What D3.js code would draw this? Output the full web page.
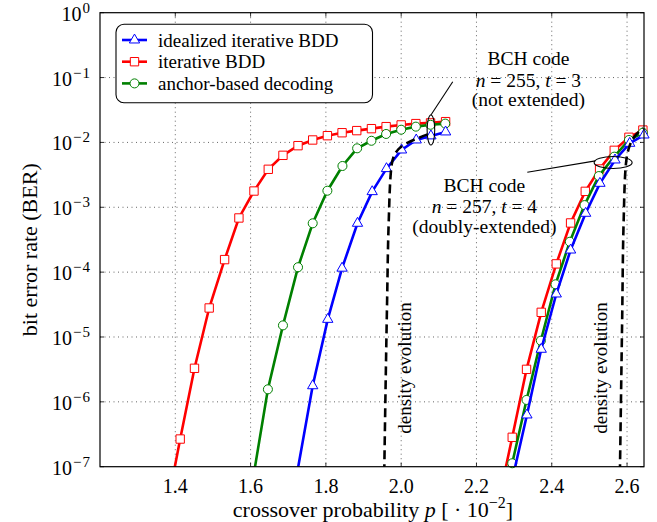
<!DOCTYPE html>
<html>
<body style="margin:0">

<script src="https://d3js.org/d3.v7.min.js"></script>
<style>

body {
    font-family: "Liberation Serif", "Times New Roman", serif;
    background: #fff;
}

.grid line {
    stroke: #555;
    stroke-width: 0.9;
    stroke-dasharray: 1 3.5;
}

.tick-label {
    font-size: 20px;
}

</style>

<script>

// crossover probability p [*1e-2] and bit error rate
// BCH n=255, t=3 (not extended)
var pIdeal255 = [1.725, 1.765, 1.805, 1.843, 1.884, 1.923, 1.961, 2.001, 2.040, 2.079, 2.118];
var berIdeal255 = [8.9e-8, 1.77e-6, 1.87e-5, 1.15e-4, 5.66e-4, 1.74e-3, 3.94e-3, 7.64e-3, 1.09e-2, 1.26e-2, 1.45e-2];

var pIter255 = [1.374, 1.413, 1.451, 1.490, 1.531, 1.569, 1.609, 1.647, 1.686, 1.726, 1.765, 1.804, 1.843, 1.882, 1.921, 1.960, 2.000, 2.039, 2.078, 2.118];
var berIter255 = [1.8e-8, 2.67e-7, 3.29e-6, 2.8e-5, 1.56e-4, 6.84e-4, 1.78e-3, 3.85e-3, 6.32e-3, 8.91e-3, 1.09e-2, 1.27e-2, 1.41e-2, 1.52e-2, 1.63e-2, 1.75e-2, 1.86e-2, 1.95e-2, 2.0e-2, 2.09e-2];

var pAnchor255 = [1.607, 1.646, 1.686, 1.726, 1.765, 1.804, 1.844, 1.883, 1.921, 1.960, 2.000, 2.039, 2.078, 2.117];
var berAnchor255 = [6.8e-8, 1.56e-6, 1.51e-5, 1.19e-4, 5.66e-4, 1.80e-3, 4.33e-3, 8.11e-3, 1.06e-2, 1.35e-2, 1.57e-2, 1.75e-2, 1.87e-2, 1.95e-2];

// BCH n=257, t=4 (doubly-extended)
var pIdeal257 = [2.295, 2.334, 2.372, 2.412, 2.450, 2.490, 2.528, 2.568, 2.607, 2.645];
var berIdeal257 = [6.3e-8, 6.27e-7, 6.46e-6, 4.60e-5, 2.19e-4, 8.07e-4, 2.34e-3, 5.36e-3, 9.68e-3, 1.30e-2];

var pIter257 = [2.256, 2.295, 2.333, 2.372, 2.412, 2.450, 2.489, 2.527, 2.566, 2.605, 2.642];
var berIter257 = [2.5e-8, 2.84e-7, 3.17e-6, 2.40e-5, 1.34e-4, 5.73e-4, 1.76e-3, 3.89e-3, 7.55e-3, 1.20e-2, 1.55e-2];

var pAnchor257 = [2.256, 2.295, 2.333, 2.371, 2.410, 2.448, 2.487, 2.525, 2.566, 2.605, 2.642];
var berAnchor257 = [1.26e-8, 1.13e-7, 1.07e-6, 8.77e-6, 6.49e-5, 2.94e-4, 1.08e-3, 3.03e-3, 6.03e-3, 1.09e-2, 1.41e-2];

// density evolution predictions
var pDE255 = [1.955, 1.9625, 1.9668, 1.9731, 1.980, 2.0067, 2.0777];
var berDE255 = [7.9e-8, 3.31e-5, 5.66e-4, 3.76e-3, 6.03e-3, 9.12e-3, 1.38e-2];
var pDE257 = [2.581, 2.587, 2.591, 2.596, 2.607, 2.624, 2.642];
var berDE257 = [7.9e-8, 1.86e-5, 6.31e-4, 3.98e-3, 8.91e-3, 1.32e-2, 1.66e-2];

var xTicks = [1.4, 1.6, 1.8, 2.0, 2.2, 2.4, 2.6];
var yExponents = [0, -1, -2, -3, -4, -5, -6, -7];

var legendNames = ["idealized iterative BDD", "iterative BDD", "anchor-based decoding"];

var W = 657, H = 522;
var plot = {left: 100, right: 644, top: 12.7, bottom: 466.7};

var svg = d3.select("body").append("svg")
    .attr("width", W)
    .attr("height", H);

var x = d3.scaleLinear().domain([1.2, 2.645]).range([plot.left, plot.right]);
var y = d3.scaleLog().domain([1e-7, 1]).range([plot.bottom, plot.top]);

svg.append("clipPath").attr("id", "clip")
  .append("rect")
    .attr("x", plot.left).attr("y", plot.top)
    .attr("width", plot.right - plot.left)
    .attr("height", plot.bottom - plot.top);

// grid
var grid = svg.append("g").attr("class", "grid");
grid.selectAll(".gx").data(xTicks).enter().append("line")
    .attr("x1", function(d) { return x(d) }).attr("x2", function(d) { return x(d) })
    .attr("y1", plot.top).attr("y2", plot.bottom);
grid.selectAll(".gy").data(yExponents.slice(1, -1)).enter().append("line")
    .attr("y1", function(d) { return y(Math.pow(10, d)) }).attr("y2", function(d) { return y(Math.pow(10, d)) })
    .attr("x1", plot.left).attr("x2", plot.right);

// inward ticks
var ticks = svg.append("g").attr("stroke", "#000").attr("stroke-width", 0.8);
xTicks.forEach(function(t) {
    ticks.append("line").attr("x1", x(t)).attr("x2", x(t)).attr("y1", plot.bottom).attr("y2", plot.bottom - 4);
    ticks.append("line").attr("x1", x(t)).attr("x2", x(t)).attr("y1", plot.top).attr("y2", plot.top + 4);
});
yExponents.forEach(function(e) {
    var yy = y(Math.pow(10, e));
    ticks.append("line").attr("x1", plot.left).attr("x2", plot.left + 4).attr("y1", yy).attr("y2", yy);
    ticks.append("line").attr("x1", plot.right).attr("x2", plot.right - 4).attr("y1", yy).attr("y2", yy);
});

// tick labels
svg.selectAll(".xl").data(xTicks).enter().append("text")
    .attr("class", "tick-label")
    .attr("x", function(d) { return x(d) })
    .attr("y", 493)
    .attr("text-anchor", "middle")
    .text(function(d) { return d.toFixed(1) });

var yl = svg.selectAll(".yl").data(yExponents).enter().append("text")
    .attr("class", "tick-label")
    .attr("x", 91)
    .attr("y", function(d) { return y(Math.pow(10, d)) + 8 })
    .attr("text-anchor", "end");
yl.append("tspan").text("10");
yl.append("tspan").attr("dy", -8).attr("dx", 1).style("font-size", "15px").style("letter-spacing", "1px")
    .text(function(d) { return d === 0 ? "0" : "\u2212" + (-d) });

// axis labels
var xlab = svg.append("text")
    .attr("x", (plot.left + plot.right) / 2 + 1)
    .attr("y", 517)
    .attr("text-anchor", "middle")
    .style("font-size", "22px");
xlab.append("tspan").text("crossover probability ");
xlab.append("tspan").style("font-style", "italic").text("p");
xlab.append("tspan").text(" [ \u00b7 10");
xlab.append("tspan").attr("dy", -9).style("font-size", "16px").text("\u22122");
xlab.append("tspan").attr("dy", 9).text("]");

svg.append("text")
    .attr("transform", "translate(37," + ((plot.top + plot.bottom) / 2 + 10) + ") rotate(-90)")
    .attr("text-anchor", "middle")
    .style("font-size", "22px")
    .text("bit error rate (BER)");

// curves
var line = d3.line()
    .x(function(d) { return x(d[0]) })
    .y(function(d) { return y(d[1]) });

function zip(a, b) { return a.map(function(v, i) { return [v, b[i]] }) }

var series = [
    {p: pIter255, ber: berIter255, color: "#ff0000", sym: d3.symbolSquare, size: 70},
    {p: pAnchor255, ber: berAnchor255, color: "#008000", sym: d3.symbolCircle, size: 64},
    {p: pIdeal255, ber: berIdeal255, color: "#0000ff", sym: d3.symbolTriangle, size: 46},
    {p: pIter257, ber: berIter257, color: "#ff0000", sym: d3.symbolSquare, size: 70},
    {p: pAnchor257, ber: berAnchor257, color: "#008000", sym: d3.symbolCircle, size: 64},
    {p: pIdeal257, ber: berIdeal257, color: "#0000ff", sym: d3.symbolTriangle, size: 46}
];

var curves = svg.append("g");
series.forEach(function(s) {
    var pts = zip(s.p, s.ber);
    curves.append("path")
        .attr("clip-path", "url(#clip)")
        .attr("d", line(pts))
        .attr("fill", "none")
        .attr("stroke", s.color)
        .attr("stroke-width", 2.6);
    curves.selectAll(null)
        .data(pts.filter(function(d) { return d[1] >= 1e-7 }))
      .enter().append("path")
        .attr("transform", function(d) { return "translate(" + x(d[0]) + "," + y(d[1]) + ")" })
        .attr("d", d3.symbol().type(s.sym).size(s.size))
        .attr("fill", "#fff")
        .attr("stroke", s.color)
        .attr("stroke-width", 1);
});

// density evolution
[zip(pDE255, berDE255), zip(pDE257, berDE257)].forEach(function(pts) {
    svg.append("path")
        .attr("clip-path", "url(#clip)")
        .attr("d", line.curve(d3.curveMonotoneY)(pts))
        .attr("fill", "none")
        .attr("stroke", "#000")
        .attr("stroke-width", 2.6)
        .attr("stroke-dasharray", "9 5");
});
line.curve(d3.curveLinear);

[410.5, 606.5].forEach(function(bx) {
    svg.append("text")
        .attr("transform", "translate(" + bx + ",368) rotate(-90)")
        .attr("text-anchor", "middle")
        .style("font-size", "19px")
        .text("density evolution");
});

// plot frame
svg.append("rect")
    .attr("x", plot.left).attr("y", plot.top)
    .attr("width", plot.right - plot.left)
    .attr("height", plot.bottom - plot.top)
    .attr("fill", "none")
    .attr("stroke", "#000")
    .attr("stroke-width", 1.2);

// annotations
var ann = svg.append("g").attr("stroke", "#000").attr("fill", "none").attr("stroke-width", 1.1);
ann.append("ellipse").attr("cx", x(2.079)).attr("cy", y(1.55e-2)).attr("rx", 3.8).attr("ry", 15);
ann.append("line").attr("x1", x(2.137)).attr("y1", y(8.6e-2)).attr("x2", x(2.079)).attr("y2", y(2.65e-2));
ann.append("ellipse").attr("cx", x(2.563)).attr("cy", y(4.9e-3)).attr("rx", 19).attr("ry", 6);
ann.append("line").attr("x1", x(2.335)).attr("y1", y(3.46e-3)).attr("x2", x(2.516)).attr("y2", y(5.2e-3));

function bchLabel(cx, yTop, n, t, note) {
    var g = svg.append("g").style("font-size", "19.5px").attr("text-anchor", "middle");
    g.append("text").attr("x", cx).attr("y", yTop).text("BCH code");
    var m = g.append("text").attr("x", cx).attr("y", yTop + 21.5);
    m.append("tspan").style("font-style", "italic").text("n");
    m.append("tspan").text(" = " + n + ", ");
    m.append("tspan").style("font-style", "italic").text("t");
    m.append("tspan").text(" = " + t);
    g.append("text").attr("x", cx).attr("y", yTop + 41).text(note);
}
bchLabel(x(2.338), 65, 255, 3, "(not extended)");
bchLabel(x(2.221), 191.5, 257, 4, "(doubly-extended)");

// legend
var legend = svg.append("g");
legend.append("rect")
    .attr("x", 116).attr("y", 24.3)
    .attr("width", 256.5).attr("height", 78.4)
    .attr("rx", 8)
    .attr("fill", "#fff")
    .attr("stroke", "#000")
    .attr("stroke-width", 1.1);
var legendSeries = [series[2], series[0], series[1]];
legendSeries.forEach(function(s, i) {
    var ly = 40 + i * 21.7;
    legend.append("line")
        .attr("x1", 122).attr("x2", 147).attr("y1", ly).attr("y2", ly)
        .attr("stroke", s.color).attr("stroke-width", 2.6);
    legend.append("path")
        .attr("transform", "translate(134.5," + ly + ")")
        .attr("d", d3.symbol().type(s.sym).size(s.size))
        .attr("fill", "#fff").attr("stroke", s.color).attr("stroke-width", 1);
    legend.append("text")
        .attr("x", 158)
        .attr("y", ly + 6.5)
        .style("font-size", "19px")
        .text(legendNames[i]);
});

</script>
</body>
</html>
